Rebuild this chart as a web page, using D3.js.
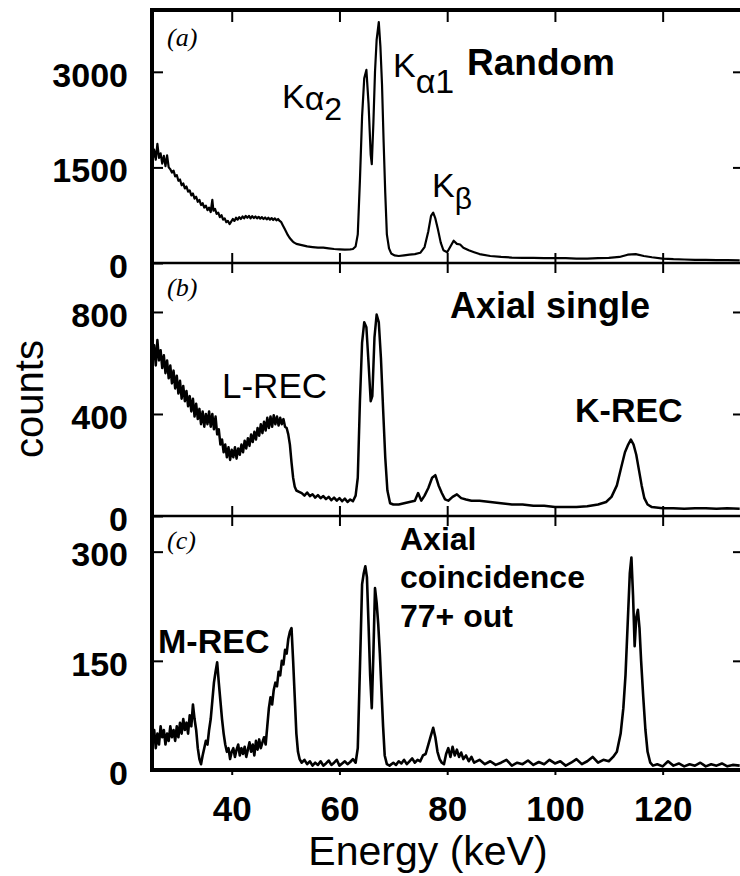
<!DOCTYPE html>
<html><head><meta charset="utf-8">
<script src="https://cdn.jsdelivr.net/npm/d3@7"></script>
<style>body{margin:0;background:#fff}svg{display:block}</style>
</head><body>
<svg id="chart" width="740" height="876"></svg>
<script>
// ---------- data ----------
const energyA=[25.3,25.6,25.9,26.2,26.5,26.8,27.1,27.4,27.7,28.0,28.3,28.6,28.9,29.2,29.5,29.8,30.1,30.4,30.7,31.0,31.3,31.6,31.9,32.2,32.5,32.8,33.1,33.4,33.7,34.0,34.3,34.6,34.9,35.2,35.5,35.8,36.1,36.4,36.6,36.9,37.2,37.5,37.8,38.1,38.4,38.7,39.0,39.3,39.6,39.9,40.2,40.5,40.8,41.1,41.4,41.7,42.0,42.3,42.6,42.9,43.2,43.5,43.8,44.1,44.4,44.7,45.0,45.3,45.6,45.9,46.2,46.5,46.8,47.1,47.4,47.7,48.0,48.3,48.6,48.9,49.2,49.5,49.8,50.1,50.4,50.7,51.0,51.3,51.6,52.0,53,54,55,56,57,58,59,60,61,62,62.5,63,63.4,63.8,64.2,64.6,65.0,65.4,65.8,66.0,66.3,66.6,66.9,67.3,67.6,67.9,68.2,68.5,68.8,69.2,69.6,70.2,71,72,73,74,75,75.8,76.5,77.0,77.4,77.8,78.3,78.8,79.3,80.0,80.6,81.2,81.8,82.4,83,84,85,86,88,90,92,94,96,98,100,102,104,106,108,110,112,113.5,115,116.5,118,120,122,124,126,128,130,132,134.3];
const countsA=[1600,1780,1620,1870,1650,1720,1560,1680,1520,1690,1500,1470,1420,1450,1360,1380,1290,1310,1220,1250,1170,1200,1120,1140,1060,1090,1010,1040,960,990,910,940,870,900,830,870,800,990,820,850,770,790,720,750,680,700,640,660,610,650,690,660,710,680,720,690,730,700,740,710,740,700,735,705,730,700,725,695,720,690,715,685,710,680,705,675,700,670,690,660,640,590,540,490,440,400,370,340,320,300,280,260,250,240,240,230,220,215,210,215,220,260,450,1300,2300,2900,3030,2500,1700,1550,2200,3000,3500,3780,3400,2800,1900,1100,450,230,150,120,110,120,130,140,160,250,500,740,790,700,520,320,200,170,260,350,300,290,240,200,170,140,110,95,85,80,80,75,75,75,70,70,75,80,95,130,140,110,90,70,60,55,50,50,45,45,40];

const energyB=[25.3,25.6,25.9,26.2,26.5,26.8,27.1,27.4,27.7,28.0,28.3,28.6,28.9,29.2,29.5,29.8,30.1,30.4,30.7,31.0,31.3,31.6,31.9,32.2,32.5,32.8,33.1,33.4,33.7,34.0,34.3,34.6,34.9,35.2,35.5,35.8,36.1,36.4,36.7,37.0,37.3,37.6,37.9,38.2,38.5,38.8,39.1,39.4,39.7,40.0,40.3,40.6,40.9,41.2,41.5,41.8,42.1,42.4,42.7,43.0,43.3,43.6,43.9,44.2,44.5,44.8,45.1,45.4,45.7,46.0,46.3,46.6,46.9,47.2,47.5,47.8,48.1,48.4,48.7,49.0,49.3,49.6,49.9,50.2,50.5,50.8,51.1,51.4,51.7,52.0,52.5,53,53.5,54,54.5,55,55.5,56,56.5,57,57.5,58,58.5,59,59.5,60,60.5,61,61.5,62,62.5,63,63.4,63.8,64.2,64.6,65.0,65.4,65.8,66.1,66.5,66.9,67.3,67.7,68.1,68.5,68.9,69.4,70,71,72,73,74,74.6,75.2,75.8,76.5,77.2,77.8,78.4,79,79.6,80.2,81,81.8,82.6,83.5,84.5,86,88,90,92,94,96,98,100,102,104,106,108,109.5,110.5,111.5,112.3,113,113.6,114.1,114.6,115.1,115.6,116.1,116.6,117.2,118,120,122,124,126,128,130,132,134.3];
const countsB=[600,670,590,690,610,650,580,630,560,610,540,590,520,570,500,550,480,530,460,510,450,490,430,470,410,460,390,440,380,420,360,410,350,400,360,410,350,400,340,390,320,340,280,300,250,280,230,270,220,260,230,270,225,265,240,280,250,295,265,305,275,320,290,330,300,345,315,360,325,370,335,385,345,390,350,395,360,390,355,385,360,380,350,345,320,280,210,150,115,100,95,90,80,92,78,85,72,82,70,78,66,75,62,72,60,70,58,68,55,65,58,80,150,450,680,760,740,600,450,470,700,790,760,620,420,230,100,50,45,45,50,55,60,90,60,80,110,150,160,120,90,65,60,75,85,70,65,60,60,55,50,45,45,40,40,35,35,35,38,45,55,75,120,190,250,280,300,280,240,180,120,70,45,35,30,30,28,30,30,28,30,28];

const energyC=[25.3,25.6,25.9,26.2,26.5,26.8,27.1,27.4,27.7,28.0,28.3,28.6,28.9,29.2,29.5,29.8,30.1,30.4,30.7,31.0,31.3,31.6,31.9,32.2,32.5,32.8,33.1,33.4,33.7,34.0,34.3,34.6,34.9,35.2,35.5,35.8,36.1,36.4,36.7,37.0,37.3,37.6,37.9,38.2,38.5,38.8,39.1,39.4,39.7,40.0,40.3,40.6,40.9,41.2,41.5,41.8,42.1,42.4,42.7,43.0,43.3,43.6,43.9,44.2,44.5,44.8,45.1,45.4,45.7,46.0,46.3,46.6,46.9,47.2,47.5,47.8,48.1,48.4,48.7,49.0,49.3,49.6,49.9,50.2,50.5,50.8,51.1,51.4,51.7,52.0,52.3,52.6,53.0,53.5,54,54.5,55,55.5,56,56.5,57,57.5,58,58.5,59,59.5,60,60.5,61,61.5,62,62.5,63,63.4,63.8,64.2,64.5,64.8,65.1,65.4,65.7,66.0,66.3,66.6,66.9,67.2,67.5,67.8,68.1,68.4,68.8,69.3,70,70.5,71,71.5,72,72.5,73,73.5,74,74.5,75,75.5,76,76.5,77.0,77.4,77.8,78.2,78.6,79.0,79.4,79.8,80.2,80.6,81.0,81.4,81.8,82.2,82.6,83,83.5,84,84.5,85,86,87,88,89,90,91,92,93,94,95,96,97,98,99,100,101,102,103,104,105,106,107,108,109,110,110.8,111.5,112.2,112.7,113.1,113.5,113.9,114.2,114.5,114.8,115.1,115.4,115.7,116.0,116.4,116.8,117.2,117.7,118.2,119,120,121,122,123,124,125,126,127,128,129,130,131,132,133,134.3];
const countsC=[40,55,30,50,35,60,45,55,35,50,40,60,45,55,40,60,45,65,50,70,55,65,50,75,60,90,70,55,30,15,8,20,30,40,35,55,70,95,120,135,148,120,95,70,50,35,25,30,15,25,30,18,28,35,20,30,22,32,18,28,38,25,35,20,40,28,42,30,38,45,35,60,85,100,90,110,120,115,135,130,150,145,165,160,180,190,195,150,100,50,25,15,10,14,8,12,6,10,7,12,6,9,13,7,10,14,6,9,12,8,11,15,10,30,140,255,270,280,265,200,130,85,160,250,230,200,160,110,60,20,8,6,10,7,12,9,14,8,12,16,10,14,12,20,22,35,48,58,45,25,15,10,8,22,30,18,32,20,28,18,24,15,20,12,18,10,14,8,12,7,10,14,6,10,8,13,7,11,8,14,9,12,6,10,15,8,12,18,10,14,12,18,25,50,85,130,200,270,292,240,170,210,220,195,150,100,55,25,10,6,8,5,12,6,9,5,8,6,10,5,8,6,9,5,7,6];

const xTickValues=[40,60,80,100,120];
const yTicksA=[0,1500,3000];
const yTicksB=[0,400,800];
const yTicksC=[0,150,300];
const panelTags=["(a)","(b)","(c)"];

// ---------- layout ----------
const svg=d3.select("#chart");
const plotL=152, plotR=744, plotT=10, plotB=770;
const x=d3.scaleLinear().domain([25.2,135.1]).range([plotL,plotR]);

const panels=[
  {e:energyA,v:countsA,ticks:yTicksA,y:d3.scaleLinear().domain([0,3970]).range([263,plotT]),tag:panelTags[0],sw:2.2},
  {e:energyB,v:countsB,ticks:yTicksB,y:d3.scaleLinear().domain([0,992]).range([516,263]),tag:panelTags[1],sw:2.5},
  {e:energyC,v:countsC,ticks:yTicksC,y:d3.scaleLinear().domain([0,349]).range([plotB,516]),tag:panelTags[2],sw:2.6}
];

const FONT='"Liberation Sans", Arial, Helvetica, sans-serif';
const SERIF='"Liberation Serif", "Times New Roman", serif';

panels.forEach((p,i)=>{
  const pts=d3.zip(p.e,p.v);
  svg.append("path").datum(pts)
    .attr("fill","none").attr("stroke","#000")
    .attr("stroke-width",p.sw).attr("stroke-linejoin","round")
    .attr("d",d3.line().x(d=>x(d[0])).y(d=>p.y(d[1])));

  const gl=svg.append("g").attr("transform",`translate(${plotL},0)`)
    .call(d3.axisLeft(p.y).tickValues(p.ticks).tickSize(-11).tickPadding(24).tickFormat(d3.format("d")));
  gl.select(".domain").remove();
  gl.selectAll("line").attr("stroke","#000").attr("stroke-width",2);
  gl.selectAll("text").attr("font-family",FONT).attr("font-weight","bold")
    .attr("font-size",34).attr("fill","#000").attr("dy","0.42em");

  const gr=svg.append("g").attr("transform",`translate(${plotR},0)`)
    .call(d3.axisRight(p.y).tickValues(p.ticks.filter(t=>t>0)).tickSize(-11).tickFormat(""));
  gr.select(".domain").remove();
  gr.selectAll("line").attr("stroke","#000").attr("stroke-width",2);

  svg.append("text").attr("x",167).attr("y",p.y.range()[1]+(i===0?36:33))
    .attr("font-family",SERIF).attr("font-style","italic").attr("font-size",26)
    .text(p.tag);
});

const gt=svg.append("g").attr("transform",`translate(0,${plotT})`)
  .call(d3.axisTop(x).tickValues(xTickValues).tickSize(-12).tickFormat(""));
gt.select(".domain").remove();
gt.selectAll("line").attr("stroke","#000").attr("stroke-width",2);

[263,516].forEach(yy=>{
  [d3.axisTop(x),d3.axisBottom(x)].forEach(ax=>{
    const g=svg.append("g").attr("transform",`translate(0,${yy})`)
      .call(ax.tickValues(xTickValues).tickSize(10).tickFormat(""));
    g.select(".domain").remove();
    g.selectAll("line").attr("stroke","#000").attr("stroke-width",2);
  });
});

const gb=svg.append("g").attr("transform",`translate(0,${plotB})`)
  .call(d3.axisBottom(x).tickValues(xTickValues).tickSize(5).tickPadding(28).tickFormat(d3.format("d")));
gb.select(".domain").remove();
gb.selectAll("line").attr("stroke","#000").attr("stroke-width",2);
gb.selectAll("text").attr("font-family",FONT).attr("font-weight","bold")
  .attr("font-size",35).attr("fill","#000").attr("dy","0.5em");

svg.append("rect").attr("x",plotL).attr("y",plotT).attr("width",plotR-plotL).attr("height",plotB-plotT)
  .attr("fill","none").attr("stroke","#000").attr("stroke-width",4);
[263,516].forEach(yy=>svg.append("line").attr("x1",plotL).attr("x2",plotR).attr("y1",yy).attr("y2",yy)
  .attr("stroke","#000").attr("stroke-width",2.5));

svg.append("text").attr("x",428).attr("y",865).attr("text-anchor","middle")
  .attr("font-family",FONT).attr("font-size",41).text("Energy (keV)");
svg.append("text").attr("transform","translate(43,399) rotate(-90)").attr("text-anchor","middle")
  .attr("font-family",FONT).attr("font-size",40).text("counts");

function label(xp,yp,parts,size,weight){
  const t=svg.append("text").attr("x",xp).attr("y",yp).attr("font-family",FONT)
    .attr("font-size",size).attr("font-weight",weight||"normal");
  parts.forEach(pt=>{
    t.append("tspan").attr("dy",pt.dy||0).attr("font-size",pt.size||size).text(pt.t);
  });
  return t;
}
label(282,108,[{t:"K"},{t:"α",dy:2},{t:"2",dy:10,size:32}],34);
label(393,77,[{t:"K"},{t:"α1",dy:16,size:34}],34);
label(467,75,[{t:"Random"}],37,"bold");
label(432,197,[{t:"K"},{t:"β",dy:12,size:30}],34);
label(450,318,[{t:"Axial single"}],36,"bold");
label(222,398,[{t:"L-REC"}],35);
label(575,422,[{t:"K-REC"}],34,"bold");
label(158,653,[{t:"M-REC"}],34,"bold");
label(400,550,[{t:"Axial"}],32,"bold");
label(400,588,[{t:"coincidence"}],32,"bold");
label(400,627,[{t:"77+ out"}],32,"bold");
</script>
</body></html>
